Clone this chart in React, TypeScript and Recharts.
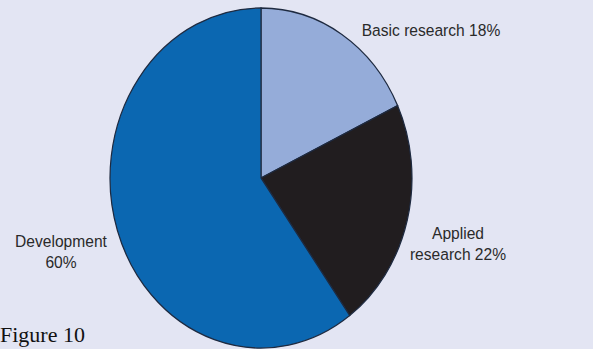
import { Cell, Pie, PieChart } from "recharts"

const categories = ["Basic research", "Applied research", "Development"]
const shares = [18, 22, 60]
const labelLines = [["Basic research 18%"], ["Applied", "research 22%"], ["Development", "60%"]]

const colors = ["#95acd9", "#211d1f", "#0b67b1"]
// page coordinates of each label block (center x, first baseline y)
const labelPos = [
  { x: 431, y: 36 },
  { x: 458, y: 239 },
  { x: 61, y: 247 },
]

const data = categories.map((name, i) => ({ name, value: shares[i] }))

// the reference pie is an upright ellipse: stretch the chart vertically
const K = 170 / 151
const W = 593
const H = 349

function renderLabel(props: any) {
  const i = props.index
  const p = labelPos[i]
  const lines = labelLines[i]
  return (
    <g key={i} transform={`translate(${p.x},${p.y / K}) scale(1,${1 / K})`}>
      <text
        x={0}
        y={0}
        textAnchor="middle"
        fontFamily="Liberation Sans, Arial, sans-serif"
        fontSize={15.6}
        fill="#2a2a2a"
      >
        {lines.map((l, j) => (
          <tspan key={j} x={0} dy={j === 0 ? 0 : 21.5}>
            {l}
          </tspan>
        ))}
      </text>
    </g>
  )
}

export default function App() {
  return (
    <div
      style={{
        position: "absolute",
        left: 0,
        top: 0,
        width: W,
        height: H,
        background: "#e3e5f3",
        overflow: "hidden",
      }}
    >
      <div style={{ transform: `scaleY(${K})`, transformOrigin: "0 0" }}>
        <PieChart width={W} height={H / K} margin={{ top: 0, right: 0, bottom: 0, left: 0 }}>
          <Pie
            data={data}
            dataKey="value"
            nameKey="name"
            cx={261}
            cy={178 / K}
            outerRadius={151}
            startAngle={90}
            endAngle={-270}
            stroke="#1e2a40"
            strokeWidth={1.2}
            label={renderLabel}
            labelLine={false}
            isAnimationActive={false}
          >
            {data.map((d, i) => (
              <Cell key={d.name} fill={colors[i]} />
            ))}
          </Pie>
        </PieChart>
      </div>
      <div
        style={{
          position: "absolute",
          left: 0,
          top: 322,
          fontFamily: "'Liberation Serif', 'DejaVu Serif', serif",
          fontSize: 22,
          color: "#111",
          lineHeight: "26px",
        }}
      >
        Figure 10
      </div>
    </div>
  )
}
